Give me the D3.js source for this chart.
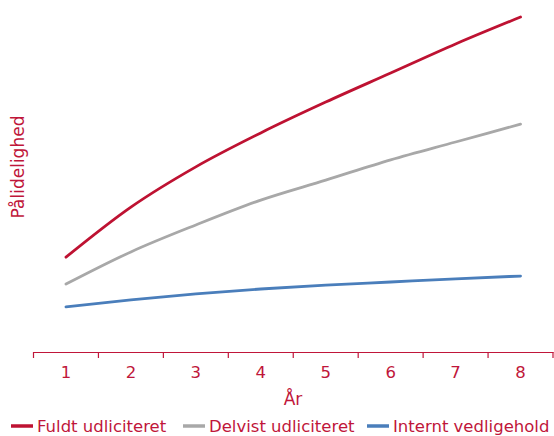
<!DOCTYPE html>
<html><head><meta charset="utf-8">
<script src="https://cdn.jsdelivr.net/npm/d3@7/dist/d3.min.js"></script>
<style>
html,body{margin:0;padding:0;background:#fff;}
svg{display:block;}
text{font-family:"DejaVu Sans",sans-serif;}
</style></head>
<body>
<svg id="chart" width="554" height="436"></svg>
<script>
const years = ["1","2","3","4","5","6","7","8"];
const fuldt = [27.1, 41.4, 52.9, 62.6, 71.4, 79.7, 88.0, 95.7];
const delvist = [19.4, 28.6, 36.3, 43.4, 49.1, 54.9, 60.0, 65.1];
const internt = [12.9, 14.9, 16.6, 18.0, 19.1, 20.0, 20.9, 21.7];
const seriesNames = ["Fuldt udliciteret", "Delvist udliciteret", "Internt vedligehold"];
const colors = ["#BE1232", "#A8A8A8", "#4A7EBB"];
const red = "#C0163A";

const svg = d3.select("#chart");
const x = d3.scaleBand().domain(years).range([33.5, 553]);
const y = d3.scaleLinear().domain([0, 100]).range([352, 2]);

// x axis
const ax = svg.append("g").attr("transform", "translate(0,352)")
  .call(d3.axisBottom(x).tickSize(0).tickPadding(14));
ax.select(".domain").attr("stroke", red).attr("stroke-width", 1.2);
ax.selectAll(".tick text").attr("fill", red).attr("font-size", 16.5);
const bounds = years.map(d => x(d)).concat([x(years[years.length-1]) + x.bandwidth()]);
ax.selectAll(".bt").data(bounds).join("line").attr("class","bt")
  .attr("x1", d => d).attr("x2", d => d).attr("y1", 0).attr("y2", 6)
  .attr("stroke", red).attr("stroke-width", 1.2);

svg.append("text").attr("x", 293).attr("y", 405).attr("text-anchor", "middle")
  .attr("fill", red).attr("font-size", 17).text("År");

svg.append("text").attr("transform", "translate(24,167) rotate(-90)")
  .attr("text-anchor", "middle").attr("fill", red).attr("font-size", 17).text("Pålidelighed");

const data = [fuldt, delvist, internt];
const line = d3.line().x((d, i) => x(years[i]) + x.bandwidth() / 2).y(d => y(d)).curve(d3.curveMonotoneX);
data.forEach((s, k) => {
  svg.append("path").attr("d", line(s)).attr("fill", "none")
    .attr("stroke", colors[k]).attr("stroke-width", 2.8).attr("stroke-linecap", "round");
});

// legend
const legX = [11, 183, 367];
seriesNames.forEach((n, k) => {
  const g = svg.append("g").attr("transform", `translate(${legX[k]},426)`);
  g.append("line").attr("x1", 0).attr("x2", 22).attr("y1", 0).attr("y2", 0)
    .attr("stroke", colors[k]).attr("stroke-width", 3.5);
  g.append("text").attr("x", 26).attr("y", 6).attr("fill", red).attr("font-size", 16.5).text(n);
});
</script>
</body></html>
